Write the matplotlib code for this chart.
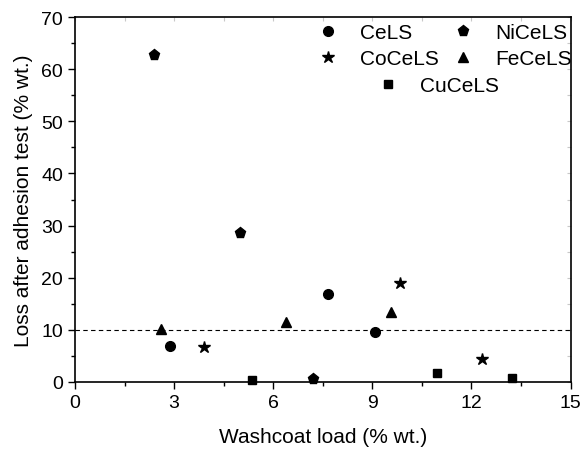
import matplotlib
matplotlib.use("Agg")
import matplotlib.pyplot as plt
from matplotlib.ticker import MultipleLocator

plt.rcParams['font.family'] = ['Liberation Sans', 'DejaVu Sans']

cels_x = [2.87, 7.66, 9.07]
cels_y = [6.9, 16.8, 9.6]
nicels_x = [2.39, 4.99, 7.19]
nicels_y = [62.7, 28.5, 0.6]
cocels_x = [3.91, 9.83, 12.33]
cocels_y = [6.8, 18.9, 4.4]
fecels_x = [2.6, 6.4, 9.56]
fecels_y = [10.2, 11.5, 13.4]
cucels_x = [5.36, 10.97, 13.24]
cucels_y = [0.45, 1.7, 0.7]
threshold = 10

fig = plt.figure(figsize=(5.84, 4.52), dpi=100)
ax = fig.add_axes([0.1284, 0.1527, 0.977 - 0.1284, 0.960 - 0.1527])

ax.axhline(threshold, color='black', lw=0.8, ls=(0, (4, 3)), zorder=1)
h1, = ax.plot(cels_x, cels_y, 'o', color='black', ms=7, ls='none', label='CeLS', clip_on=False)
h2, = ax.plot(nicels_x, nicels_y, 'p', color='black', ms=8, ls='none', label='NiCeLS', clip_on=False)
h3, = ax.plot(cocels_x, cocels_y, '*', color='black', ms=9, ls='none', label='CoCeLS', clip_on=False)
h4, = ax.plot(fecels_x, fecels_y, '^', color='black', ms=7, ls='none', label='FeCeLS', clip_on=False)
h5, = ax.plot(cucels_x, cucels_y, 's', color='black', ms=6, ls='none', label='CuCeLS', clip_on=False)

ax.set_xlim(0, 15)
ax.set_ylim(0, 70)
ax.xaxis.set_major_locator(MultipleLocator(3))
ax.xaxis.set_minor_locator(MultipleLocator(1.5))
ax.yaxis.set_major_locator(MultipleLocator(10))
ax.yaxis.set_minor_locator(MultipleLocator(5))
ax.tick_params(which='both', direction='out', labelsize=14, width=1, top=False, right=False)
ax.tick_params(which='major', length=5)
ax.tick_params(which='minor', length=3)
for s in ax.spines.values():
    s.set_linewidth(1.2)

# faint inward ticks on top and right
sx = ax.secondary_xaxis('top')
sx.xaxis.set_major_locator(MultipleLocator(1.5))
sx.tick_params(direction='in', length=3, color='#c8c8c8', labeltop=False)
sx.spines['top'].set_visible(False)
sy = ax.secondary_yaxis('right')
sy.yaxis.set_major_locator(MultipleLocator(5))
sy.tick_params(direction='in', length=3, color='#c8c8c8', labelright=False)
sy.spines['right'].set_visible(False)

ax.set_xlabel('Washcoat load (% wt.)', fontsize=15, labelpad=12)
ax.set_ylabel('Loss after adhesion test (% wt.)', fontsize=15, labelpad=6)

leg1 = ax.legend(handles=[h1, h3, h2, h4], ncol=2, frameon=False, fontsize=15,
                 loc='upper left', bbox_to_anchor=(312 / 584, 1 - 24 / 452),
                 bbox_transform=fig.transFigure, handletextpad=0.8, columnspacing=0.4,
                 labelspacing=0.35, borderaxespad=0, borderpad=0, handlelength=1.5)
ax.add_artist(leg1)
ax.legend(handles=[h5], frameon=False, fontsize=15, loc='upper left',
          bbox_to_anchor=(372 / 584, 1 - 77 / 452), bbox_transform=fig.transFigure,
          handletextpad=0.8, borderaxespad=0, borderpad=0, handlelength=1.5)

fig.savefig('out.png', dpi=100)
